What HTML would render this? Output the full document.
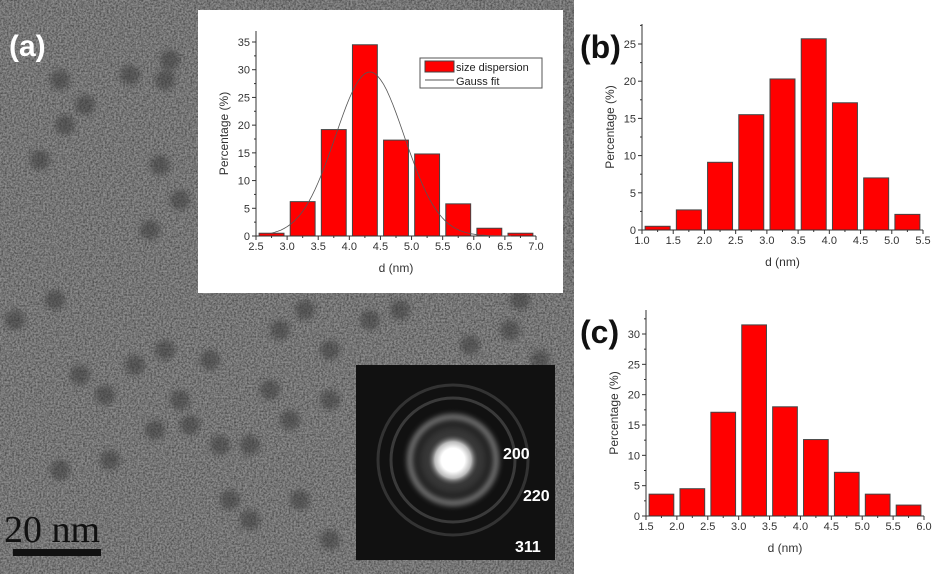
<!DOCTYPE html>
<html><head><meta charset="utf-8"><style>
html,body{margin:0;padding:0;background:#fff;width:934px;height:574px;overflow:hidden}
svg{display:block;font-family:"Liberation Sans",Arial,sans-serif}
</style></head><body>
<svg id="fig" width="934" height="574" viewBox="0 0 934 574">
<defs>
<filter id="noise" x="0" y="0" width="100%" height="100%">
<feTurbulence type="fractalNoise" baseFrequency="0.55" numOctaves="2" seed="4" result="t"/>
<feColorMatrix type="matrix" values="0 0 0 0 0  0 0 0 0 0  0 0 0 0 0  0 0 0 -1.6 1.1" in="t"/>
</filter>
<filter id="blur3"><feGaussianBlur stdDeviation="3"/></filter>
<filter id="blur6"><feGaussianBlur stdDeviation="6"/></filter>
<radialGradient id="spot"><stop offset="0" stop-color="#fff"/><stop offset="0.45" stop-color="#fff"/><stop offset="0.7" stop-color="#bbb"/><stop offset="1" stop-color="#333" stop-opacity="0"/></radialGradient>
</defs>
<g>
<rect x="0" y="0" width="574" height="574" fill="#8c8c8c"/>
<rect x="0" y="0" width="574" height="574" fill="#4a4a4a" filter="url(#noise)" opacity="0.55"/>
<g id="blobs" fill="#3a3a3a" opacity="0.55" filter="url(#blur3)"></g>
</g>
<text x="9" y="56" fill="#fff" font-size="30" font-weight="bold">(a)</text>
<g>
<text x="4" y="542" font-family="Liberation Serif,serif" font-size="38" fill="#111">20 nm</text>
<rect x="13" y="549" width="88" height="7" fill="#111"/>
</g>
<g>
<rect x="356" y="365" width="199" height="195" fill="#111"/>
<circle cx="453" cy="460" r="75" fill="none" stroke="#333" stroke-width="3"/>
<circle cx="453" cy="460" r="62" fill="none" stroke="#3a3a3a" stroke-width="3"/>
<circle cx="453" cy="460" r="43" fill="none" stroke="#999" stroke-width="5" filter="url(#blur3)" opacity="0.9"/>
<circle cx="453" cy="460" r="36" fill="#555" opacity="0.6" filter="url(#blur6)"/>
<circle cx="453" cy="460" r="26" fill="url(#spot)"/>
<text x="503" y="459" fill="#fff" font-size="16" font-weight="bold">200</text>
<text x="523" y="501" fill="#fff" font-size="16" font-weight="bold">220</text>
<text x="515" y="552" fill="#fff" font-size="16" font-weight="bold">311</text>
</g>
<rect x="198" y="10" width="365" height="283" fill="#fff"/>
<g id="chartA"></g>
<text x="580" y="58" fill="#111" font-size="32" font-weight="bold">(b)</text>
<g id="chartB"></g>
<text x="580" y="343" fill="#111" font-size="32" font-weight="bold">(c)</text>
<g id="chartC"></g>
</svg>
<script>
// Chart A data
const aCenters=[2.75,3.25,3.75,4.25,4.75,5.25,5.75,6.25,6.75];
const aValues=[0.5,6.2,19.2,34.5,17.3,14.8,5.8,1.4,0.5];
const aXTicks=["2.5","3.0","3.5","4.0","4.5","5.0","5.5","6.0","6.5","7.0"];
const aYTicks=["0","5","10","15","20","25","30","35"];
const gaussParams=[29.6,4.33,0.555];
// Chart B data
const bCenters=[1.25,1.75,2.25,2.75,3.25,3.75,4.25,4.75,5.25];
const bValues=[0.5,2.7,9.1,15.5,20.3,25.7,17.1,7.0,2.1];
const bXTicks=["1.0","1.5","2.0","2.5","3.0","3.5","4.0","4.5","5.0","5.5"];
const bYTicks=["0","5","10","15","20","25"];
// Chart C data
const cCenters=[1.75,2.25,2.75,3.25,3.75,4.25,4.75,5.25,5.75];
const cValues=[3.6,4.5,17.1,31.5,18.0,12.6,7.2,3.6,1.8];
const cXTicks=["1.5","2.0","2.5","3.0","3.5","4.0","4.5","5.0","5.5","6.0"];
const cYTicks=["0","5","10","15","20","25","30"];

const NS="http://www.w3.org/2000/svg";
function mk(tag,attrs,parent){const e=document.createElementNS(NS,tag);for(const k in attrs)e.setAttribute(k,attrs[k]);parent.appendChild(e);return e;}

function drawChart(g,cfg,centers,values,xt,yt){
  const sx=v=>cfg.x0+(v-cfg.xmin)/(cfg.xmax-cfg.xmin)*(cfg.x1-cfg.x0);
  const sy=v=>cfg.y0-(v/cfg.ymax)*(cfg.y0-cfg.y1);
  centers.forEach((c,i)=>{
    const r=mk('rect',{x:sx(c-0.2),y:sy(values[i]),width:sx(c+0.2)-sx(c-0.2),height:sy(0)-sy(values[i]),fill:'#ff0000',stroke:'#444','stroke-width':1},g);
    
    
  });
  const ax=mk('line',{x1:cfg.x0,y1:cfg.y0,x2:cfg.x1,y2:cfg.y0,stroke:'#333','stroke-width':1},g);
  
  
  const ay=mk('line',{x1:cfg.x0,y1:cfg.y0,x2:cfg.x0,y2:cfg.ytop,stroke:'#333','stroke-width':1},g);
  
  
  xt.forEach(t=>{
    const v=parseFloat(t),x=sx(v);
    mk('line',{x1:x,y1:cfg.y0,x2:x,y2:cfg.y0+4,stroke:'#333'},g);
    if(v+0.25<=cfg.xmax){const xm=sx(v+0.25);mk('line',{x1:xm,y1:cfg.y0,x2:xm,y2:cfg.y0+2,stroke:'#333'},g);}
    const tx=mk('text',{x:x,y:cfg.y0+14,'text-anchor':'middle','font-size':11,fill:'#333'},g);
    tx.textContent=t;
    
    
  });
  yt.forEach(t=>{
    const v=parseFloat(t),y=sy(v);
    mk('line',{x1:cfg.x0,y1:y,x2:cfg.x0-4,y2:y,stroke:'#333'},g);
    const ym=sy(v+2.5);if(ym>cfg.ytop)mk('line',{x1:cfg.x0,y1:ym,x2:cfg.x0-2,y2:ym,stroke:'#333'},g);
    const ty=mk('text',{x:cfg.x0-6,y:y+4,'text-anchor':'end','font-size':11,fill:'#333'},g);
    ty.textContent=t;
    
    
  });
  const xl=mk('text',{x:(cfg.x0+cfg.x1)/2,y:cfg.y0+36,'text-anchor':'middle','font-size':12,fill:'#333'},g);
  xl.textContent='d (nm)';
  
  
  const yx=cfg.x0-28,ym=(cfg.y0+cfg.ytop)/2;
  const yl=mk('text',{x:yx,y:ym,'text-anchor':'middle','font-size':12,fill:'#333',transform:`rotate(-90 ${yx} ${ym})`},g);
  yl.textContent='Percentage (%)';
  
  
  return {sx,sy};
}

const gA=document.getElementById('chartA');
const A=drawChart(gA,{x0:256,x1:536,y0:236,y1:42,ytop:31,xmin:2.5,xmax:7.0,ymax:35},aCenters,aValues,aXTicks,aYTicks);
let pts=[];
for(let x=2.75;x<=6.6;x+=0.05){const [amp,mu,s]=gaussParams;pts.push(A.sx(x).toFixed(1)+','+A.sy(amp*Math.exp(-((x-mu)**2)/(2*s*s))).toFixed(1));}
const gl=mk('polyline',{points:pts.join(' '),fill:'none',stroke:'#555','stroke-width':0.8},gA);


const lg=mk('g',{},gA);


mk('rect',{x:420,y:58,width:122,height:30,fill:'#fff',stroke:'#555'},lg);
mk('rect',{x:425,y:61,width:29,height:11,fill:'#ff0000',stroke:'#444'},lg);
const l1=mk('text',{x:456,y:71,'font-size':11,fill:'#222'},lg);l1.textContent='size dispersion';
mk('line',{x1:425,y1:80,x2:454,y2:80,stroke:'#555'},lg);
const l2=mk('text',{x:456,y:85,'font-size':11,fill:'#222'},lg);l2.textContent='Gauss fit';

drawChart(document.getElementById('chartB'),{x0:642,x1:923,y0:230,y1:44,ytop:24,xmin:1.0,xmax:5.5,ymax:25},bCenters,bValues,bXTicks,bYTicks);
drawChart(document.getElementById('chartC'),{x0:646,x1:924,y0:516,y1:334,ytop:310,xmin:1.5,xmax:6.0,ymax:30},cCenters,cValues,cXTicks,cYTicks);

// decorative nanoparticle blobs in TEM image
const blobs=[[60,80],[85,105],[130,75],[165,80],[170,60],[65,125],[40,160],[160,165],[180,200],[150,230],[15,320],[55,300],[80,375],[105,395],[135,365],[165,350],[210,360],[180,400],[155,430],[190,425],[220,445],[250,445],[270,390],[280,330],[305,310],[330,350],[370,320],[330,400],[290,420],[230,500],[250,520],[300,500],[330,540],[110,460],[60,470],[400,310],[470,345],[510,330],[540,360],[520,300]];
const bg=document.getElementById('blobs');
blobs.forEach(b=>mk('circle',{cx:b[0],cy:b[1],r:10},bg));
</script>
</body></html>
